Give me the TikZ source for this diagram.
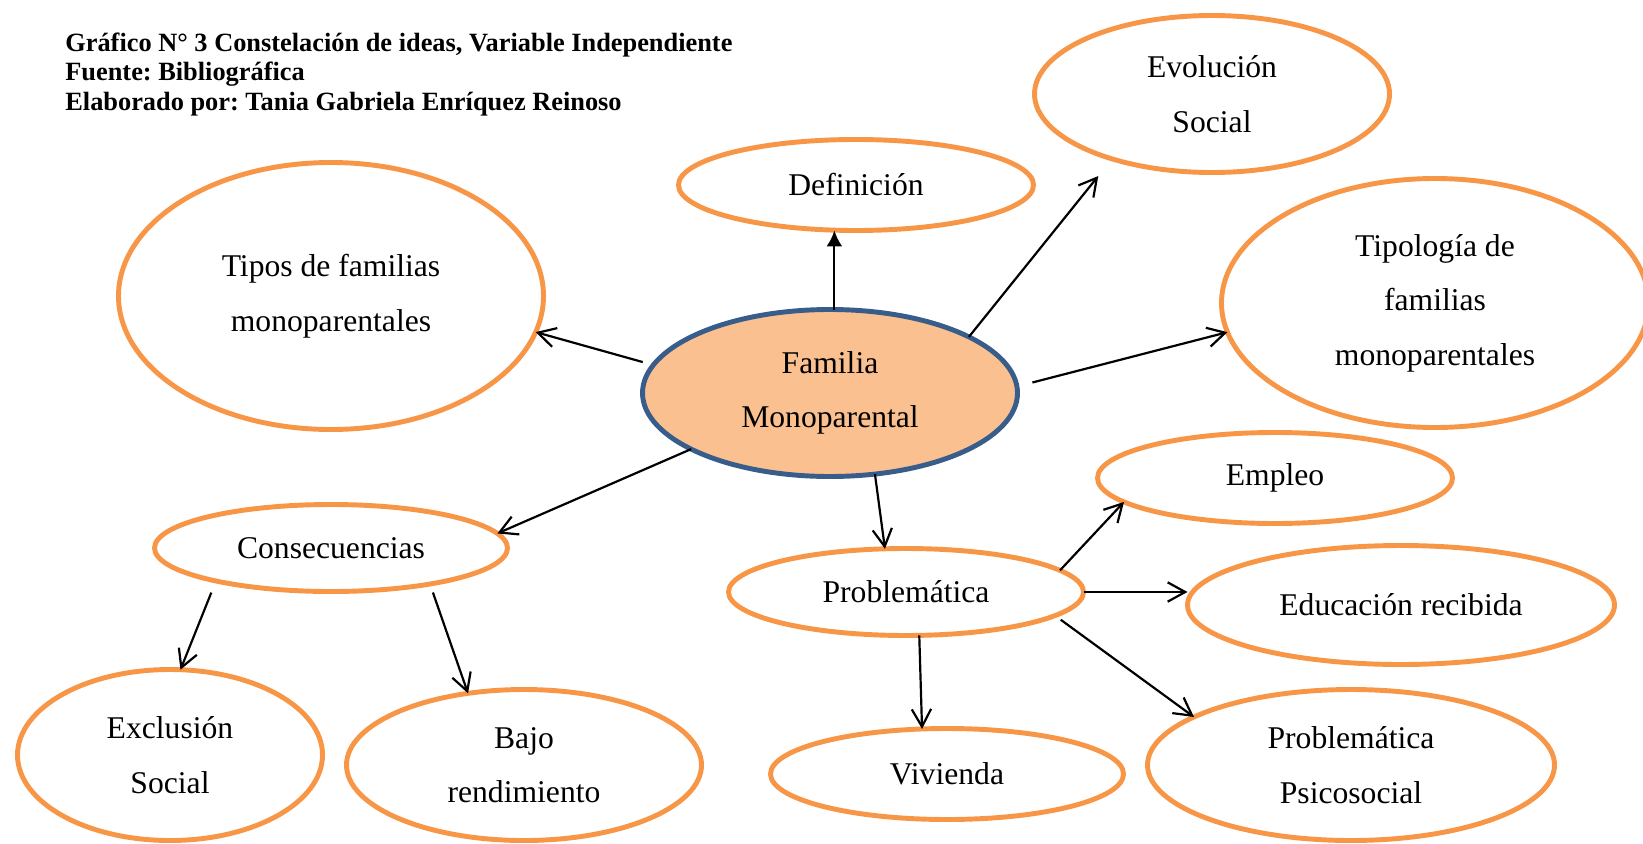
\documentclass[tikz,border=0pt]{standalone}
\usepackage{fontspec}
\setmainfont{Liberation Serif}
\usetikzlibrary{shapes.geometric,arrows.meta}
\definecolor{naranja}{HTML}{F79646}
\definecolor{relleno}{HTML}{FAC090}
\definecolor{azul}{HTML}{385D8A}
\frenchspacing
\begin{document}
\begin{tikzpicture}[idea/.style = {draw=naranja, line width=2.8pt, ellipse, inner sep=0pt, outer sep=0pt, align=center, font=\fontsize{18}{31}\selectfont},
  centro/.style = {idea, draw=azul, fill=relleno},
  titulo/.style = {anchor=base west, inner sep=0pt, font=\fontsize{15}{17}\selectfont\bfseries},
  flecha/.style = {-{Straight Barb[length=10pt,width=11pt]}, line width=1.25pt}]
  \useasboundingbox (0,0) rectangle (32.86,-16.86);
  \node[titulo] (t1) at (1.3,-1.04) {Gráfico N° 3 Constelación de ideas, Variable Independiente};
  \node[titulo] (t2) at (1.3,-1.62) {Fuente: Bibliográfica};
  \node[titulo] (t3) at (1.3,-2.20) {Elaborado por: Tania Gabriela Enríquez Reinoso};
  \node[centro, minimum width=7.5cm, minimum height=3.34cm] (fam) at (16.6,-7.86) {Familia\\Monoparental};
  \node[idea, minimum width=7.1cm, minimum height=1.82cm] (def) at (17.12,-3.70) {Definición};
  \node[idea, minimum width=7.1cm, minimum height=3.14cm] (evol) at (24.24,-1.88) {Evolución\\Social};
  \node[idea, minimum width=8.5cm, minimum height=5.34cm] (tipos) at (6.62,-5.92) {Tipos de familias\\monoparentales};
  \node[idea, minimum width=8.54cm, minimum height=4.98cm] (tipol) at (28.7,-6.06) {Tipología de\\familias\\monoparentales};
  \node[idea, minimum width=7.06cm, minimum height=1.74cm] (consec) at (6.62,-10.96) {Consecuencias};
  \node[idea, minimum width=7.1cm, minimum height=1.74cm] (prob) at (18.12,-11.84) {Problemática};
  \node[idea, minimum width=7.1cm, minimum height=1.82cm] (empleo) at (25.5,-9.56) {Empleo};
  \node[idea, minimum width=8.54cm, minimum height=2.38cm] (edu) at (28.02,-12.1) {Educación recibida};
  \node[idea, minimum width=6.1cm, minimum height=3.42cm] (excl) at (3.4,-15.1) {Exclusión\\Social};
  \node[idea, minimum width=7.1cm, minimum height=3.02cm] (bajo) at (10.48,-15.3) {Bajo\\rendimiento};
  \node[idea, minimum width=7.06cm, minimum height=1.82cm] (viv) at (18.94,-15.48) {Vivienda};
  \node[idea, minimum width=8.14cm, minimum height=3.02cm] (psico) at (27.02,-15.3) {Problemática\\Psicosocial};
  \draw[-{Latex[length=9pt,width=9pt]}, line width=1.25pt] (fam.87) -- (fam.87 |- def.south);
  \draw[flecha, shorten >=0.44cm] (fam.22) -- (evol.213);
  \draw[flecha, shorten <=0.32cm] (fam.2) -- (tipol.188);
  \draw[flecha, shorten <=0.22cm] (fam.171) -- (tipos.350);
  \draw[flecha] (fam.202) -- (consec.5);
  \draw[flecha] (fam.299) -- (prob.116);
  \draw[flecha, shorten <=0.25cm] (consec.196) -- (excl.83);
  \draw[flecha, shorten <=0.18cm] (consec.340) -- (bajo.128);
  \draw[flecha] (prob.287) -- (viv.119);
  \draw[flecha] (prob.8) -- (empleo.189);
  \draw[flecha] (prob.east) -- (prob.east -| edu.west);
  \draw[flecha, shorten <=0.14cm] (prob.351) -- (psico.163);
\end{tikzpicture}
\end{document}
